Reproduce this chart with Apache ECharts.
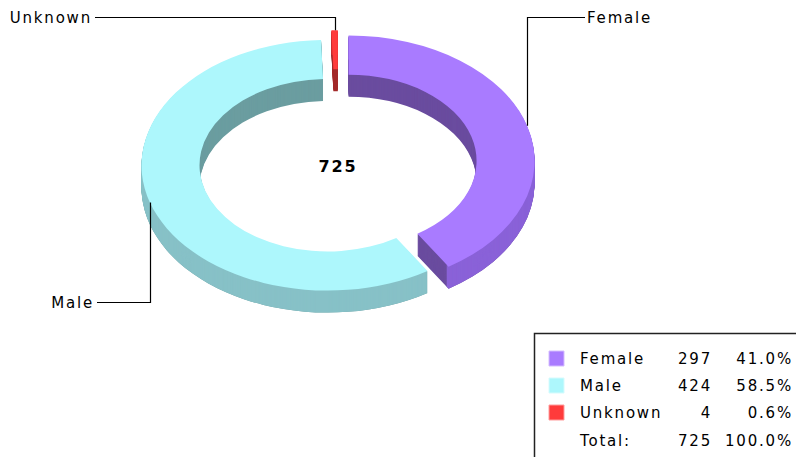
<!DOCTYPE html>
<html>
<head>
<meta charset="utf-8">
<script src="https://cdn.jsdelivr.net/npm/echarts@6/dist/echarts.min.js"></script>
<style>
  html, body { margin: 0; padding: 0; background: #fff; }
  /* svg 渲染时文字会继承字间距 */
  #chart { width: 796px; height: 457px; letter-spacing: 1.8px; }
</style>
</head>
<body>
<div id="chart"></div>
<script>
// 数据
const categories = ['Female', 'Male', 'Unknown'];
const counts = [297, 424, 4];

// 颜色: 顶面 / 内壁和断面 / 外壁
const topColors = ['#a97bff', '#adf7fc', '#ff3b3b'];
const innerColors = ['#6a4c9f', '#6b9da0', '#a32a2a'];
const outerColors = ['#8a62d8', '#87c1c7', '#cf3030'];

// 椭圆环几何
const CX = 338, CY = 163;
const R = 186, R0 = 128;
const KY = 0.674;    // 纵向压扁比例
const DEPTH = 22;    // 厚度
const EXPLODE = 11;  // 扇区分离距离

// 引线标签的终点
const labelPos = {
  Female: { x: 585, y: 17, align: 'left' },
  Male: { x: 97, y: 302, align: 'right' },
  Unknown: { x: 95, y: 17, align: 'right' }
};

const FONT = '15px "DejaVu Sans"';
const total = counts.reduce((a, b) => a + b, 0);

function sliceGeo(i) {
  let before = 0;
  for (let k = 0; k < i; k++) before += counts[k];
  const start = -Math.PI / 2 + before / total * Math.PI * 2;
  const end = -Math.PI / 2 + (before + counts[i]) / total * Math.PI * 2;
  const mid = (start + end) / 2;
  return {
    start, end, mid,
    cx: CX + EXPLODE * Math.cos(mid),
    cy: CY + EXPLODE * Math.sin(mid)
  };
}

function ring(g, r0, r, color, dy, z2) {
  return {
    type: 'sector',
    shape: { cx: g.cx, cy: g.cy, r0: r0, r: r, startAngle: g.start, endAngle: g.end, clockwise: true },
    style: { fill: color },
    originX: CX, originY: CY, scaleY: KY, y: dy, z2: z2,
    silent: true
  };
}

function txt(text, x, y, align, font) {
  return {
    type: 'text',
    style: {
      text: text, x: x, y: y, fill: '#000', font: font || FONT,
      align: align, textAlign: align, verticalAlign: 'middle', textVerticalAlign: 'middle'
    },
    silent: true
  };
}

const chart = echarts.init(document.getElementById('chart'), null, { renderer: 'svg' });

// 图例表格
const rowY = [359, 386, 413, 441];
const legendEls = [{
  type: 'rect',
  shape: { x: 534.5, y: 333.5, width: 300, height: 160 },
  style: { fill: '#fff', stroke: '#222', lineWidth: 1.5 },
  z: 10
}];
categories.forEach((name, i) => {
  const y = rowY[i];
  legendEls.push({
    type: 'rect',
    shape: { x: 549, y: y - 8, width: 15, height: 15 },
    style: { fill: topColors[i], stroke: echarts.color.lift(topColors[i], 0.5), lineWidth: 1 },
    z: 11
  });
  legendEls.push(Object.assign(txt(name, 580, y, 'left'), { z: 11 }));
  legendEls.push(Object.assign(txt(String(counts[i]), 712, y, 'right'), { z: 11 }));
  legendEls.push(Object.assign(txt((counts[i] / total * 100).toFixed(1) + '%', 793, y, 'right'), { z: 11 }));
});
legendEls.push(Object.assign(txt('Total:', 580, rowY[3], 'left'), { z: 11 }));
legendEls.push(Object.assign(txt(String(total), 712, rowY[3], 'right'), { z: 11 }));
legendEls.push(Object.assign(txt('100.0%', 793, rowY[3], 'right'), { z: 11 }));

// 中心总数
legendEls.push(Object.assign(txt(String(total), CX, CY + 3, 'center', 'bold 16px "DejaVu Sans"'), { z: 11 }));

const seriesData = categories.map((name, i) => ({ name: name, value: counts[i] }));

chart.setOption({
  animation: false,
  backgroundColor: '#fff',
  graphic: { elements: legendEls },
  series: [
    {
      // 侧面(厚度)
      type: 'custom',
      coordinateSystem: 'none',
      z: 1,
      silent: true,
      data: seriesData,
      renderItem(params) {
        const i = params.dataIndex;
        const g = sliceGeo(i);
        const children = [];
        for (let d = DEPTH; d >= 1; d--) children.push(ring(g, R0, R, innerColors[i], d, 0));
        for (let d = DEPTH; d >= 1; d--) children.push(ring(g, R - 4, R, outerColors[i], d, 1));
        return { type: 'group', children: children };
      }
    },
    {
      // 顶面 + 引线标签
      type: 'custom',
      coordinateSystem: 'none',
      z: 2,
      silent: true,
      data: seriesData,
      renderItem(params) {
        const i = params.dataIndex;
        const g = sliceGeo(i);
        const lp = labelPos[categories[i]];
        const ax = g.cx + R * Math.cos(g.mid);
        const ay = CY + KY * (g.cy - CY + R * Math.sin(g.mid));
        const tx = lp.align === 'left' ? lp.x + 2 : lp.x - 3;
        return {
          type: 'group',
          children: [
            ring(g, R0, R, topColors[i], 0, 0),
            {
              type: 'polyline',
              shape: { points: [[Math.round(ax) + 0.5, ay], [Math.round(ax) + 0.5, lp.y + 0.5], [lp.x, lp.y + 0.5]] },
              style: { stroke: '#000', lineWidth: 1.2, fill: null },
              z2: 5
            },
            Object.assign(txt(categories[i], tx, lp.y + 1, lp.align), { z2: 5 })
          ]
        };
      }
    }
  ]
});
</script>
</body>
</html>
